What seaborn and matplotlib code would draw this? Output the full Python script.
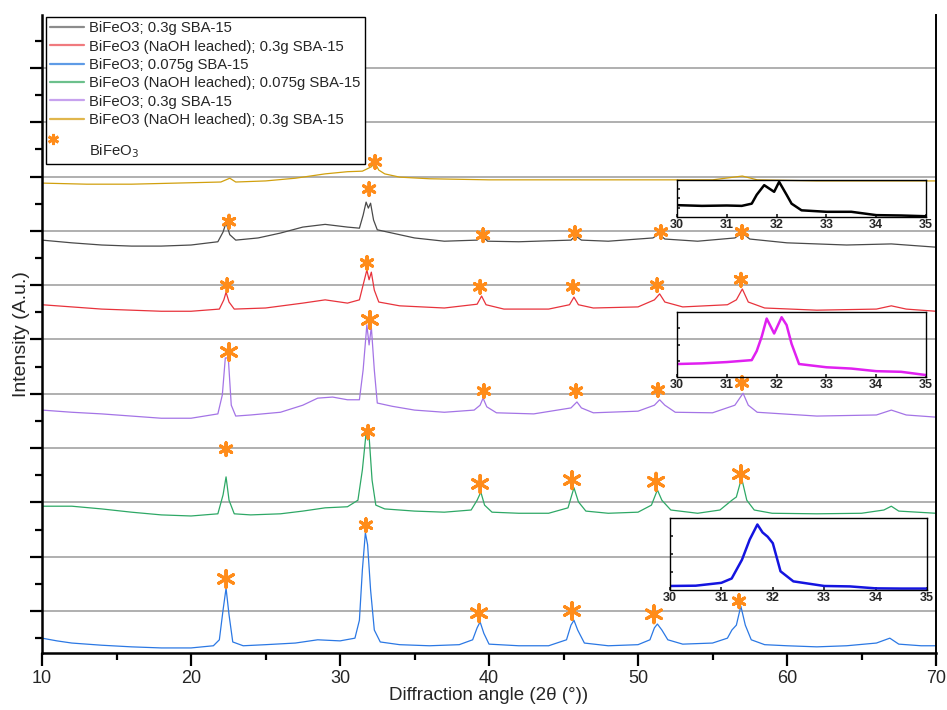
import numpy as np
import pandas as pd
import matplotlib
matplotlib.use("Agg")
import matplotlib.pyplot as plt
import seaborn as sns
from matplotlib.lines import Line2D
from matplotlib.legend_handler import HandlerBase

sns.set_theme(style="white")
plt.rcParams['font.family'] = ['Liberation Sans', 'DejaVu Sans']

# ---------------- data (stacked, y in offset intensity units) ----------------
blue_x = [10, 11, 12, 14, 16, 18, 20, 21.5, 21.9, 22.15, 22.35, 22.55, 22.8, 23.5, 25, 27, 28.5, 30, 31,
          31.3, 31.5, 31.7, 31.85, 32.05, 32.3, 32.7, 34, 36, 38, 38.9, 39.2, 39.4, 39.65, 40, 42, 44,
          45.2, 45.5, 45.7, 45.95, 46.4, 48, 50, 50.8, 51.1, 51.3, 51.6, 52, 53, 55, 56, 56.3, 56.6,
          56.9, 57.2, 57.6, 58.5, 60, 62, 64, 66, 66.9, 67.5, 69, 70]
blue_y = [-0.50, -0.55, -0.59, -0.63, -0.66, -0.68, -0.68, -0.64, -0.53, 0.02, 0.42, -0.07, -0.57, -0.64,
          -0.62, -0.59, -0.53, -0.55, -0.50, -0.17, 0.76, 1.44, 1.22, 0.39, -0.35, -0.57, -0.62, -0.64,
          -0.62, -0.53, -0.31, -0.20, -0.41, -0.61, -0.64, -0.64, -0.53, -0.26, -0.17, -0.35, -0.59,
          -0.64, -0.62, -0.53, -0.31, -0.24, -0.35, -0.53, -0.61, -0.59, -0.50, -0.35, -0.26, 0.09,
          -0.26, -0.53, -0.62, -0.64, -0.66, -0.64, -0.59, -0.50, -0.61, -0.64, -0.64]

green_x = [10, 12, 14, 16, 18, 20, 21.8, 22.15, 22.35, 22.55, 22.9, 24, 26, 27.5, 29, 30.5, 31.2, 31.5,
           31.75, 31.85, 31.95, 32.15, 32.4, 33, 35, 37, 38.8, 39.2, 39.45, 39.7, 40.2, 42, 44, 45.3,
           45.7, 46.0, 46.5, 48, 50, 50.9, 51.3, 51.6, 52.2, 54, 55.5, 56.3, 56.6, 56.95, 57.3, 57.8,
           59, 62, 65, 66.5, 67, 67.5, 70]
green_y = [1.93, 1.93, 1.88, 1.82, 1.77, 1.75, 1.79, 2.14, 2.47, 2.04, 1.79, 1.77, 1.79, 1.84, 1.90, 1.92,
           2.04, 2.60, 3.28, 3.15, 3.22, 2.41, 1.95, 1.88, 1.84, 1.82, 1.86, 2.04, 2.19, 1.95, 1.82, 1.80,
           1.80, 1.90, 2.27, 2.01, 1.84, 1.80, 1.82, 1.95, 2.23, 2.04, 1.86, 1.80, 1.86, 2.04, 2.10, 2.45,
           2.04, 1.86, 1.80, 1.79, 1.80, 1.86, 1.93, 1.84, 1.80]

purple_x = [10, 12, 14, 16, 18, 20, 21.8, 22.1, 22.3, 22.5, 22.7, 23, 24, 26, 27.5, 28.5, 29.5, 30.5, 31.3,
            31.55, 31.8, 31.95, 32.1, 32.3, 32.5, 33.5, 35, 37, 39, 39.4, 39.6, 39.85, 40.5, 43, 45.5,
            45.9, 46.2, 47, 50, 51.1, 51.45, 51.8, 52.5, 55, 56.5, 57.05, 57.4, 58, 62, 66, 67, 68, 70]
purple_y = [3.70, 3.66, 3.63, 3.59, 3.55, 3.55, 3.63, 3.98, 4.66, 4.66, 3.79, 3.59, 3.61, 3.66, 3.79, 3.92,
            3.94, 3.89, 3.89, 4.44, 5.27, 4.90, 5.23, 4.44, 3.83, 3.77, 3.70, 3.66, 3.70, 3.79, 3.92, 3.76,
            3.65, 3.63, 3.74, 3.85, 3.74, 3.65, 3.68, 3.79, 3.89, 3.79, 3.66, 3.65, 3.79, 4.01, 3.79, 3.66,
            3.59, 3.61, 3.70, 3.61, 3.57]

red_x = [10, 12, 14, 16, 18, 20, 21.9, 22.2, 22.35, 22.55, 22.9, 25, 27.5, 29, 30.5, 31.3, 31.6, 31.8,
         31.95, 32.1, 32.3, 32.6, 34, 37, 39.2, 39.5, 39.8, 41, 44, 45.4, 45.7, 46, 47, 50, 51.1, 51.45,
         51.8, 53, 56, 56.6, 57.0, 57.4, 58.5, 62, 66, 67, 68, 70]
red_y = [5.64, 5.60, 5.56, 5.54, 5.52, 5.52, 5.56, 5.73, 5.87, 5.69, 5.56, 5.58, 5.67, 5.73, 5.67, 5.73,
         6.06, 6.28, 6.10, 6.24, 5.91, 5.69, 5.62, 5.58, 5.65, 5.80, 5.64, 5.56, 5.56, 5.64, 5.78, 5.64,
         5.58, 5.60, 5.73, 5.84, 5.69, 5.60, 5.64, 5.73, 5.93, 5.69, 5.58, 5.54, 5.56, 5.62, 5.56, 5.52]

gray_x = [10, 12, 14, 16, 18, 20, 21.8, 22.15, 22.35, 22.6, 23, 24.5, 26, 27.5, 29, 30.5, 31.3, 31.55,
          31.75, 31.9, 32.05, 32.25, 32.5, 33.5, 35, 37, 39.2, 39.55, 39.9, 42, 45.5, 45.8, 46.2, 48, 51,
          51.4, 51.8, 54, 56.5, 57.0, 57.5, 60, 64, 67, 70]
gray_y = [6.83, 6.78, 6.74, 6.72, 6.72, 6.74, 6.80, 6.98, 7.15, 6.93, 6.83, 6.87, 6.96, 7.07, 7.12, 7.07,
          7.05, 7.29, 7.53, 7.42, 7.51, 7.20, 7.02, 6.96, 6.87, 6.81, 6.83, 6.91, 6.81, 6.80, 6.83, 6.91,
          6.83, 6.81, 6.87, 6.94, 6.85, 6.81, 6.87, 6.96, 6.85, 6.78, 6.74, 6.76, 6.70]

gold_x = [10, 13, 16, 19, 22, 22.6, 23, 25, 27, 29, 30.5, 31.5, 32.1, 32.35, 32.6, 33, 34, 36, 40, 45, 50,
          55, 57, 58, 62, 66, 70]
gold_y = [7.88, 7.86, 7.86, 7.88, 7.90, 7.97, 7.90, 7.92, 7.97, 8.05, 8.09, 8.10, 8.18, 8.25, 8.12, 8.05,
          7.99, 7.96, 7.94, 7.94, 7.94, 7.94, 8.01, 7.94, 7.92, 7.92, 7.92]

# BiFeO3 reflection markers
star_x = [32.35,
          22.55, 31.95, 39.6, 45.77, 51.54, 56.98,
          22.42, 31.81, 39.4, 45.64, 51.28, 56.91,
          22.55, 32.01, 39.66, 45.84, 51.34, 56.98,
          22.35, 31.88, 39.4, 45.57, 51.21, 56.91,
          22.35, 31.74, 39.33, 45.57, 51.07, 56.78]
star_y = [8.27,
          7.17, 7.77, 6.92, 6.96, 6.98, 6.98,
          6.00, 6.41, 5.97, 5.97, 6.00, 6.10,
          4.77, 5.36, 4.05, 4.05, 4.07, 4.20,
          2.98, 3.30, 2.34, 2.41, 2.38, 2.52,
          0.59, 1.58, -0.04, 0.00, -0.06, 0.18]
star_big = [0,
            0, 0, 0, 0, 0, 0,
            0, 0, 0, 0, 0, 0,
            1, 1, 0, 0, 0, 0,
            0, 0, 1, 1, 1, 1,
            1, 0, 1, 1, 1, 0]

# insets: zoom 30-35 deg (normalised intensity)
in1_x = [30, 30.5, 31, 31.3, 31.5, 31.6, 31.75, 31.95, 32.05, 32.2, 32.3, 32.5, 33, 33.5, 34, 34.5, 35]
in1_y = [0.32, 0.30, 0.31, 0.30, 0.36, 0.60, 0.86, 0.68, 0.95, 0.60, 0.36, 0.18, 0.14, 0.14, 0.05, 0.04, 0.02]
in2_x = [30, 30.5, 31, 31.5, 31.6, 31.7, 31.8, 31.95, 32.1, 32.2, 32.3, 32.45, 33, 33.5, 34, 34.5, 35]
in2_y = [0.20, 0.21, 0.23, 0.26, 0.40, 0.62, 0.90, 0.67, 0.92, 0.80, 0.51, 0.20, 0.15, 0.13, 0.09, 0.08, 0.03]
in3_x = [30, 30.5, 31, 31.2, 31.4, 31.55, 31.7, 31.8, 31.9, 32.0, 32.15, 32.4, 33, 33.5, 34, 34.5, 35]
in3_y = [0.056, 0.06, 0.10, 0.16, 0.42, 0.70, 0.91, 0.80, 0.74, 0.65, 0.26, 0.12, 0.056, 0.05, 0.023, 0.02, 0.02]

labels = ["BiFeO3; 0.3g SBA-15", "BiFeO3 (NaOH leached); 0.3g SBA-15", "BiFeO3; 0.075g SBA-15",
          "BiFeO3 (NaOH leached); 0.075g SBA-15", "BiFeO3; 0.3g SBA-15", "BiFeO3 (NaOH leached); 0.3g SBA-15"]

# ---------------- figure ----------------
fig = plt.figure(figsize=(9.47, 7.10), dpi=100)
ax = fig.add_axes([0.0444, 0.0803, 0.944, 0.8986])

series = [(gray_x, gray_y, "#4a4a4a"), (red_x, red_y, "#e8333c"), (blue_x, blue_y, "#2b78e4"),
          (green_x, green_y, "#2ea866"), (purple_x, purple_y, "#a474e6"), (gold_x, gold_y, "#d1a00e")]
for xs, ys, c in series:
    df = pd.DataFrame({"x": xs, "y": ys})
    sns.lineplot(data=df, x="x", y="y", ax=ax, color=c, lw=0.9, estimator=None, sort=False)

sdf = pd.DataFrame({"x": star_x, "y": star_y, "big": star_big})
sns.scatterplot(data=sdf, x="x", y="y", size="big", sizes={0: 85, 1: 150}, marker=(6, 2, 0),
                color="#ff8c1a", linewidth=2.2, ax=ax, legend=False, zorder=5)

ax.set_xlim(10, 70)
ax.set_ylim(-0.773, 10.976)
ax.set_xticks([10, 20, 30, 40, 50, 60, 70])
ax.set_xticks([15, 25, 35, 45, 55, 65], minor=True)
ax.set_yticks(range(0, 11))
ax.set_yticks([k + 0.5 for k in range(-1, 11)], minor=True)
ax.set_yticklabels([])
ax.yaxis.grid(True, which="major", color="#9a9a9a", lw=1.1)
ax.xaxis.grid(False)
ax.set_axisbelow(True)
ax.tick_params(axis="both", which="major", direction="out", length=9, width=1.6, color="black",
               labelsize=13, pad=3, left=True, bottom=True)
ax.tick_params(axis="both", which="minor", direction="out", length=5, width=1.6, color="black",
               left=True, bottom=True)
for s in ["left", "bottom"]:
    ax.spines[s].set_color("black")
    ax.spines[s].set_linewidth(1.8)
ax.spines["right"].set_color("black")
ax.spines["right"].set_linewidth(1.4)
ax.spines["top"].set_visible(False)
ax.set_xlabel("Diffraction angle (2θ (°))", fontsize=13.5, labelpad=0)
ax.set_ylabel("Intensity (A.u.)", fontsize=14)
ax.yaxis.set_label_coords(-0.014, 0.5)


class StarHandler(HandlerBase):
    def create_artists(self, legend, orig_handle, xdescent, ydescent, width, height, fontsize, trans):
        m = Line2D([-xdescent + 1.8], [height + 1], marker=(6, 2, 0), markersize=8, markeredgewidth=2.0,
                   color="#ff8c1a", ls="none", transform=trans)
        return [m]


leg_cols = ["#8c8c8c", "#f07a7e", "#5e9be6", "#6cc08c", "#c7a2ee", "#e0b64c"]
handles = [Line2D([], [], color=c, lw=1.6) for c in leg_cols]
star_h = Line2D([], [], ls="none")
handles.append(star_h)
leg = ax.legend(handles, labels + ["\nBiFeO$_3$"], loc="upper left", bbox_to_anchor=(0.004, 0.997),
                fontsize=10.7, frameon=True, fancybox=False, framealpha=1, edgecolor="black",
                borderpad=0.3, labelspacing=0.29, handlelength=2.3, handletextpad=0.3,
                borderaxespad=0, handler_map={star_h: StarHandler()})
leg.get_frame().set_linewidth(1.0)
leg.get_texts()[-1].set_linespacing(0.75)

# insets
def inset(rect, xs, ys, color):
    a = fig.add_axes(rect)
    a.patch.set_alpha(0)
    sns.lineplot(data=pd.DataFrame({"x": xs, "y": ys}), x="x", y="y", ax=a, color=color, lw=1.8,
                 estimator=None, sort=False)
    a.set_xlim(30, 35)
    a.set_ylim(0, 1)
    a.set_xticks([30, 31, 32, 33, 34, 35])
    a.set_yticks([0.25, 0.5, 0.75])
    a.set_yticklabels([])
    a.set_xlabel("")
    a.set_ylabel("")
    a.grid(False)
    a.tick_params(axis="x", direction="in", length=2, labelsize=9, pad=1.5, bottom=True)
    a.tick_params(axis="y", direction="in", length=2, left=True)
    for lab in a.get_xticklabels():
        lab.set_fontweight("bold")
    for s in a.spines.values():
        s.set_color("black")
        s.set_linewidth(1.0)
    return a

inset([0.7149, 0.6944, 0.263, 0.0521], in1_x, in1_y, "black")
inset([0.7149, 0.469, 0.263, 0.0915], in2_x, in2_y, "#e020f0")
inset([0.7075, 0.169, 0.2714, 0.1014], in3_x, in3_y, "#1414e0")

fig.savefig("out.png", dpi=100)
